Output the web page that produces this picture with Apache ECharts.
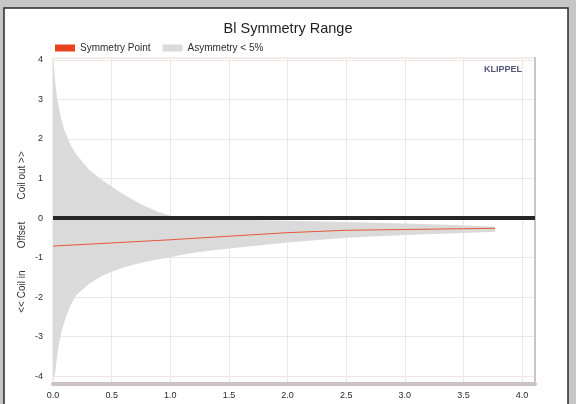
<!DOCTYPE html>
<html>
<head>
<meta charset="utf-8">
<script src="https://cdn.jsdelivr.net/npm/echarts@6/dist/echarts.min.js"></script>
<style>
  html, body { margin: 0; padding: 0; background: #c6c6c6; }
  #chart { width: 576px; height: 404px; }
</style>
</head>
<body>
<div id="chart"></div>
<script>
// Displacement (mm) sample positions for the asymmetry band
const bandX = [0, 0.01, 0.02, 0.035, 0.05, 0.07, 0.1, 0.15, 0.2, 0.3, 0.4, 0.5, 0.6, 0.7, 0.8, 0.9, 1.0, 1.1, 1.2, 1.5, 2.0, 2.5, 3.0, 3.5, 3.77];
// Upper and lower offset limits where Bl asymmetry stays below 5 %
const bandUpper = [4.0, 3.75, 3.4, 3.05, 2.8, 2.5, 2.2, 1.85, 1.6, 1.25, 1.0, 0.8, 0.6, 0.43, 0.28, 0.15, 0.06, 0.0, -0.02, -0.04, -0.07, -0.1, -0.14, -0.18, -0.22];
const bandLower = [-4.05, -4.0, -3.9, -3.5, -3.2, -2.9, -2.6, -2.2, -1.95, -1.68, -1.49, -1.36, -1.25, -1.17, -1.1, -1.04, -0.99, -0.93, -0.88, -0.77, -0.62, -0.5, -0.43, -0.38, -0.35];

// Symmetry point (offset) versus displacement
const symX = [0, 0.5, 1.0, 1.5, 2.0, 2.5, 3.0, 3.5, 3.77];
const symY = [-0.71, -0.63, -0.55, -0.46, -0.37, -0.31, -0.29, -0.27, -0.26];

// Tick labels
const xTicks = [0, 0.5, 1.0, 1.5, 2.0, 2.5, 3.0, 3.5, 4.0];
const yTicks = [-4, -3, -2, -1, 0, 1, 2, 3, 4];

const seriesNames = ['Symmetry Point', 'Asymmetry < 5%'];

const FONT = "'Liberation Sans', Arial, sans-serif";

const chart = echarts.init(document.getElementById('chart'), null, { renderer: 'canvas' });

const option = {
  backgroundColor: '#c6c6c6',
  animation: false,
  textStyle: { fontFamily: FONT },
  title: {
    text: 'Bl Symmetry Range',
    left: 'center',
    top: 16,
    textStyle: { fontSize: 14.5, fontWeight: 'normal', color: '#1e1e1e', fontFamily: FONT }
  },
  legend: {
    left: 50,
    top: 38,
    icon: 'rect',
    itemWidth: 20,
    itemHeight: 7,
    itemGap: 12,
    data: seriesNames,
    textStyle: { fontSize: 10, color: '#2e2e2e', fontFamily: FONT }
  },
  grid: {
    left: 53, right: 41, top: 58, bottom: 20,
    show: true,
    backgroundColor: '#ffffff',
    borderColor: '#e4dcdc',
    borderWidth: 1
  },
  xAxis: {
    type: 'value',
    min: 0,
    max: 4.11,
    axisLine: { show: true, onZero: false, lineStyle: { color: '#cbc3c3', width: 4 } },
    axisTick: { show: false, customValues: xTicks },
    axisLabel: {
      customValues: xTicks,
      formatter: v => v.toFixed(1),
      fontSize: 9, color: '#2a2a2a', margin: 7, fontFamily: FONT
    },
    splitLine: { show: true, lineStyle: { color: '#efe5e5', width: 1 } }
  },
  yAxis: [
    {
      type: 'value',
      min: -4.2,
      max: 4.05,
      axisLine: { show: false },
      axisTick: { show: false, customValues: yTicks },
      axisLabel: {
        customValues: yTicks,
        fontSize: 9, color: '#2a2a2a', margin: 10, fontFamily: FONT
      },
      splitLine: { show: true, lineStyle: { color: '#efe5e5', width: 1 } }
    },
    {
      type: 'value',
      position: 'right',
      min: -4.2,
      max: 4.05,
      axisLine: { show: true, onZero: false, lineStyle: { color: '#cdc5c5', width: 2 } },
      axisTick: { show: false },
      axisLabel: { show: false },
      splitLine: { show: false }
    }
  ],
  graphic: [
    {
      type: 'rect',
      z: -10,
      shape: { x: 4, y: 8, width: 564, height: 400 },
      style: { fill: '#ffffff', stroke: '#2a2a2a', lineWidth: 1.5 }
    },
    {
      type: 'text',
      right: 54,
      top: 65,
      style: { text: 'KLIPPEL', fontSize: 9, fontWeight: 'bold', fill: '#56567a', fontFamily: FONT }
    },
    {
      type: 'text',
      x: 22,
      y: 232,
      rotation: Math.PI / 2,
      style: {
        text: '<< Coil in        Offset        Coil out >>',
        fontSize: 10, fill: '#333333', fontFamily: FONT,
        align: 'center', verticalAlign: 'middle'
      }
    }
  ],
  series: [
    {
      name: seriesNames[1],
      type: 'custom',
      coordinateSystem: 'cartesian2d',
      clip: true,
      z: 2,
      itemStyle: { color: '#dadada' },
      data: [[bandX[0], bandUpper[0]]],
      renderItem: function (params, api) {
        const pts = [];
        for (let i = 0; i < bandX.length; i++) {
          pts.push(api.coord([bandX[i], bandUpper[i]]));
        }
        for (let i = bandX.length - 1; i >= 0; i--) {
          pts.push(api.coord([bandX[i], bandLower[i]]));
        }
        return {
          type: 'polygon',
          shape: { points: pts },
          style: { fill: '#dadada' }
        };
      }
    },
    {
      name: seriesNames[0],
      type: 'line',
      z: 3,
      showSymbol: false,
      symbol: 'none',
      color: '#e8431f',
      lineStyle: { color: '#e2583a', width: 1 },
      data: symX.map((x, i) => [x, symY[i]]),
      markLine: {
        silent: true,
        symbol: 'none',
        label: { show: false },
        lineStyle: { color: '#262626', width: 4, type: 'solid' },
        data: [{ yAxis: 0 }]
      }
    }
  ]
};

chart.setOption(option);
</script>
</body>
</html>
